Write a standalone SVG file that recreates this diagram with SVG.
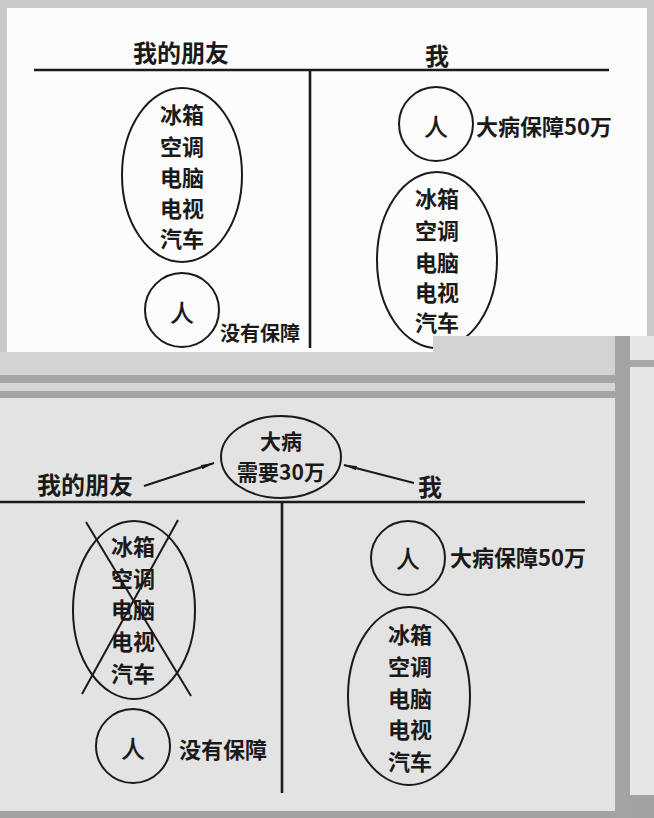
<svg xmlns="http://www.w3.org/2000/svg" width="654" height="818" viewBox="0 0 654 818">
<defs>
<style>
text{font-family:"Noto Sans CJK SC","Noto Sans",sans-serif;font-weight:bold;fill:#1a1a1a;dominant-baseline:central}
.c{text-anchor:middle}
.t{font-size:22px}
.h{font-size:24px}
.s{font-size:20px}
.m{font-size:21px}
.p{font-size:24px;font-weight:500}
.ln{stroke:#1a1a1a;stroke-width:2.6;fill:none}
.sh{stroke:#1a1a1a;stroke-width:2;fill:none}
</style>
<marker id="ah" viewBox="0 0 14 6" refX="13" refY="3" markerWidth="14" markerHeight="6" markerUnits="userSpaceOnUse" orient="auto">
<path d="M0,0.8 L14,3 L0,5.2 Z" fill="#1a1a1a"/>
</marker>
</defs>
<!-- backgrounds -->
<rect x="0" y="0" width="654" height="818" fill="#c9c9c9"/>
<rect x="7" y="8" width="640" height="344" fill="#fdfcfc"/>
<rect x="0" y="352" width="615" height="23" fill="#d4d3d3"/>
<rect x="0" y="375" width="615" height="8" fill="#a6a6a6"/>
<rect x="0" y="383" width="615" height="8" fill="#d6d6d6"/>
<rect x="0" y="391" width="615" height="7" fill="#a4a4a4"/>
<rect x="0" y="398" width="615" height="413" fill="#e3e3e3"/>
<rect x="0" y="811" width="654" height="7" fill="#a2a2a2"/>
<rect x="630" y="336" width="24" height="459" fill="#e6e6e6"/>
<rect x="630" y="360" width="24" height="7" fill="#a8a8a8"/>
<rect x="630" y="795" width="24" height="16" fill="#a2a2a2"/>

<!-- top panel -->
<g id="top-connectors">
<line class="ln" x1="34" y1="70" x2="609" y2="70"/>
<line class="ln" x1="310" y1="70" x2="310" y2="348"/>
</g>
<g id="top-friend-title"><text class="c h" x="181" y="51">我的朋友</text></g>
<g id="top-me-title"><text class="c h" x="437" y="54">我</text></g>
<g id="top-friend-assets">
<ellipse class="sh" cx="182" cy="175" rx="60" ry="87"/>
<text class="c t" x="182" y="113">冰箱</text>
<text class="c t" x="182" y="145">空调</text>
<text class="c t" x="182" y="176">电脑</text>
<text class="c t" x="182" y="207">电视</text>
<text class="c t" x="182" y="237">汽车</text>
</g>
<g id="top-friend-person">
<circle class="sh" cx="182" cy="310" r="37"/>
<text class="c p" x="182" y="311">人</text>
<text class="s" x="220" y="332">没有保障</text>
</g>
<g id="top-me-person">
<circle class="sh" cx="436" cy="124" r="37"/>
<text class="c p" x="436" y="125">人</text>
<text class="t" x="476" y="125">大病保障50万</text>
</g>
<g id="top-me-assets">
<ellipse class="sh" cx="437" cy="260" rx="60" ry="88"/>
<text class="c t" x="437" y="197">冰箱</text>
<text class="c t" x="437" y="229">空调</text>
<text class="c t" x="437" y="261">电脑</text>
<text class="c t" x="437" y="291">电视</text>
<text class="c t" x="437" y="321">汽车</text>
</g>
<rect x="433" y="336" width="182" height="16" fill="#d4d3d3"/>
<rect x="615" y="336" width="15" height="482" fill="#a3a3a3"/>

<!-- bottom panel -->
<g id="bottom-connectors">
<line class="ln" x1="0" y1="502" x2="585" y2="502"/>
<line class="ln" x1="282" y1="502" x2="282" y2="793"/>
<line class="sh" x1="144" y1="486" x2="214" y2="463" marker-end="url(#ah)"/>
<line class="sh" x1="414" y1="483" x2="344" y2="465" marker-end="url(#ah)"/>
</g>
<g id="bottom-illness">
<ellipse class="sh" cx="281" cy="457" rx="60" ry="41"/>
<text class="c m" x="281" y="440">大病</text>
<text class="c m" x="281" y="471">需要30万</text>
</g>
<g id="bottom-friend-title"><text class="h" x="37" y="483">我的朋友</text></g>
<g id="bottom-me-title"><text class="h" x="418" y="485">我</text></g>
<g id="bottom-friend-assets">
<ellipse class="sh" cx="134" cy="610" rx="61" ry="89"/>
<text class="c t" x="133" y="545">冰箱</text>
<text class="c t" x="133" y="577">空调</text>
<text class="c t" x="133" y="608">电脑</text>
<text class="c t" x="133" y="640">电视</text>
<text class="c t" x="133" y="672">汽车</text>
<line class="sh" x1="86" y1="522" x2="191" y2="696"/>
<line class="sh" x1="178" y1="520" x2="82" y2="694"/>
</g>
<g id="bottom-friend-person">
<circle class="sh" cx="133" cy="746" r="37"/>
<text class="c p" x="133" y="747">人</text>
<text class="t" x="179" y="748">没有保障</text>
</g>
<g id="bottom-me-person">
<circle class="sh" cx="408" cy="558" r="37"/>
<text class="c p" x="408" y="557">人</text>
<text class="t" x="450" y="556">大病保障50万</text>
</g>
<g id="bottom-me-assets">
<ellipse class="sh" cx="409" cy="696" rx="61" ry="89"/>
<text class="c t" x="410" y="633">冰箱</text>
<text class="c t" x="410" y="665">空调</text>
<text class="c t" x="410" y="697">电脑</text>
<text class="c t" x="410" y="728">电视</text>
<text class="c t" x="410" y="760">汽车</text>
</g>
</svg>
